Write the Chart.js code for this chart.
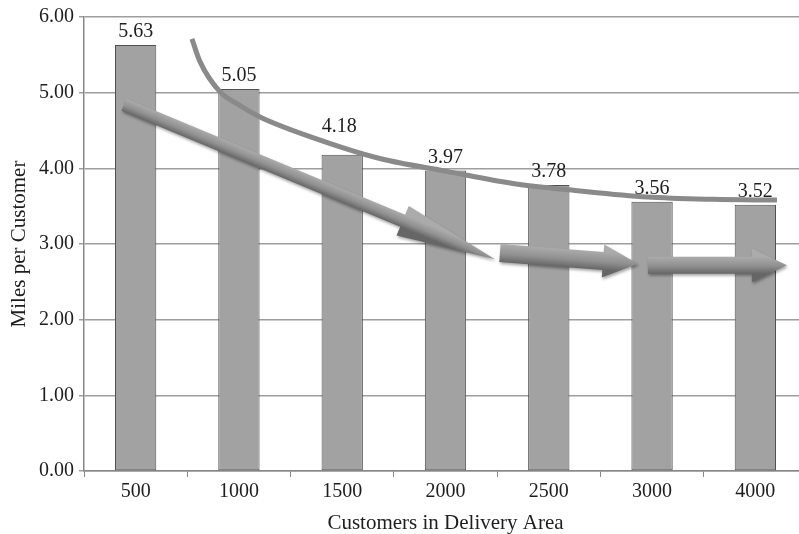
<!DOCTYPE html>
<html>
<head>
<meta charset="utf-8">
<title>Miles per Customer</title>
<script src="https://cdn.jsdelivr.net/npm/chart.js@4"></script>
<style>
  html, body { margin: 0; padding: 0; background: #fff; overflow: hidden; }
  #wrap { width: 812px; height: 534px; }
</style>
</head>
<body>
<div id="wrap"><canvas id="chart" width="812" height="534"></canvas></div>
<script>
// Customers in the delivery area and the resulting miles driven per customer
const categories = ['500', '1000', '1500', '2000', '2500', '3000', '4000'];
const milesPerCustomer = [5.63, 5.05, 4.18, 3.97, 3.78, 3.56, 3.52];
const yTicks = [0, 1, 2, 3, 4, 5, 6];

// Hand-drawn trend curve (x in category units, y in miles)
const trendX = [0.545, 0.623, 0.817, 1.0, 1.204, 1.688, 2.365, 3.014, 3.653, 4.302, 4.950, 5.589, 6.209];
const trendY = [5.71, 5.41, 5.01, 4.84, 4.68, 4.42, 4.13, 3.96, 3.80, 3.70, 3.62, 3.59, 3.58];

// Block arrows: tail and tip (x in category units, y in miles)
const arrowTailX = [-0.113, 3.527, 4.96];
const arrowTailY = [4.84, 2.88, 2.72];
const arrowTipX = [3.479, 4.863, 6.305];
const arrowTipY = [2.80, 2.74, 2.72];

const serif = '"Liberation Serif", "DejaVu Serif", serif';
const textColor = '#1e1e1e';
const BAR_DATASET = 1;

function drawArrow(ctx, x0, y0, x1, y1, band, head, headLen) {
  const dx = x1 - x0, dy = y1 - y0;
  const len = Math.hypot(dx, dy);
  const ux = dx / len, uy = dy / len;
  const px = -uy, py = ux;
  const bx = x1 - ux * headLen, by = y1 - uy * headLen;
  const b = band / 2, h = head / 2;
  ctx.save();
  const g = ctx.createLinearGradient(x0 + px * b, y0 + py * b, x0 - px * b, y0 - py * b);
  g.addColorStop(0, '#666666');
  g.addColorStop(0.45, '#909090');
  g.addColorStop(1, '#ababab');
  ctx.fillStyle = g;
  ctx.shadowColor = 'rgba(0,0,0,0.35)';
  ctx.shadowBlur = 3;
  ctx.shadowOffsetX = 1;
  ctx.shadowOffsetY = 2;
  ctx.beginPath();
  ctx.moveTo(x0 - px * b, y0 - py * b);
  ctx.lineTo(bx - px * b, by - py * b);
  ctx.lineTo(bx - px * h, by - py * h);
  ctx.lineTo(x1, y1);
  ctx.lineTo(bx + px * h, by + py * h);
  ctx.lineTo(bx + px * b, by + py * b);
  ctx.lineTo(x0 + px * b, y0 + py * b);
  ctx.closePath();
  ctx.fill();
  ctx.restore();
}

const arrowPlugin = {
  id: 'blockArrows',
  afterDatasetsDraw(chart, args, opts) {
    const xs = chart.scales.xc, ys = chart.scales.y;
    const ctx = chart.ctx;
    for (let i = 0; i < arrowTailX.length; i++) {
      const s = opts.shapes[i];
      drawArrow(ctx,
        xs.getPixelForValue(arrowTailX[i]), ys.getPixelForValue(arrowTailY[i]),
        xs.getPixelForValue(arrowTipX[i]), ys.getPixelForValue(arrowTipY[i]),
        s.band, s.head, s.headLen);
    }
  }
};

const valueLabelPlugin = {
  id: 'valueLabels',
  afterDatasetsDraw(chart, args, opts) {
    const meta = chart.getDatasetMeta(BAR_DATASET);
    const ctx = chart.ctx;
    ctx.save();
    ctx.font = '20px ' + serif;
    ctx.fillStyle = textColor;
    ctx.textAlign = 'center';
    ctx.textBaseline = 'middle';
    meta.data.forEach((bar, i) => {
      const lift = opts.gap + (opts.extraLift[i] || 0);
      ctx.fillText(milesPerCustomer[i].toFixed(2), bar.x + (opts.shiftX[i] || 0), bar.y - lift);
    });
    ctx.restore();
  }
};

new Chart(document.getElementById('chart'), {
  type: 'bar',
  data: {
    labels: categories,
    datasets: [
      {
        type: 'line',
        data: trendX.map((x, i) => ({ x: x, y: trendY[i] })),
        xAxisID: 'xc',
        yAxisID: 'y',
        borderColor: '#8a8a8a',
        borderWidth: 5,
        pointRadius: 0,
        cubicInterpolationMode: 'monotone',
        order: 0
      },
      {
        type: 'bar',
        data: milesPerCustomer,
        xAxisID: 'x',
        yAxisID: 'y',
        backgroundColor: '#a2a2a2',
        borderColor: '#505050',
        borderWidth: 1,
        borderSkipped: false,
        grouped: false,
        categoryPercentage: 1,
        barPercentage: 0.4,
        order: 1
      }
    ]
  },
  options: {
    responsive: false,
    animation: false,
    devicePixelRatio: 1,
    layout: { padding: { top: 15, right: 5, left: 0, bottom: 0 } },
    plugins: {
      legend: { display: false },
      tooltip: { enabled: false },
      blockArrows: {
        shapes: [
          { band: 13, head: 32, headLen: 100 },
          { band: 18, head: 33, headLen: 35 },
          { band: 17, head: 34, headLen: 35 }
        ]
      },
      valueLabels: { gap: 13, extraLift: { 2: 15 }, shiftX: { 2: -3 } }
    },
    scales: {
      x: {
        type: 'category',
        offset: true,
        border: { color: '#888', width: 1.5 },
        grid: { display: true, drawOnChartArea: false, drawTicks: true, tickLength: 6, color: '#888', offset: true },
        ticks: { font: { family: serif, size: 20 }, color: textColor, padding: 3, maxRotation: 0 },
        title: { display: true, text: 'Customers in Delivery Area', font: { family: serif, size: 21, lineHeight: 1.0 }, color: textColor, padding: { top: 0, bottom: 0 } },
        afterFit(scale) { scale.height = 63; }
      },
      xc: {
        type: 'linear',
        display: false,
        offset: false,
        grid: { offset: false },
        min: -0.5,
        max: 6.5
      },
      y: {
        min: 0,
        max: 6,
        afterBuildTicks(scale) { scale.ticks = yTicks.map(v => ({ value: v })); },
        border: { color: '#888', width: 1.5 },
        grid: { color: '#9e9e9e', lineWidth: 1.5, tickLength: 5 },
        ticks: {
          font: { family: serif, size: 20 },
          color: textColor,
          padding: 5,
          callback: v => Number(v).toFixed(2)
        },
        title: { display: true, text: 'Miles per Customer', font: { family: serif, size: 21 }, color: textColor, padding: { top: 7, bottom: 0 } },
        afterFit(scale) { scale.width = 84; }
      }
    }
  },
  plugins: [arrowPlugin, valueLabelPlugin]
});
</script>
</body>
</html>
